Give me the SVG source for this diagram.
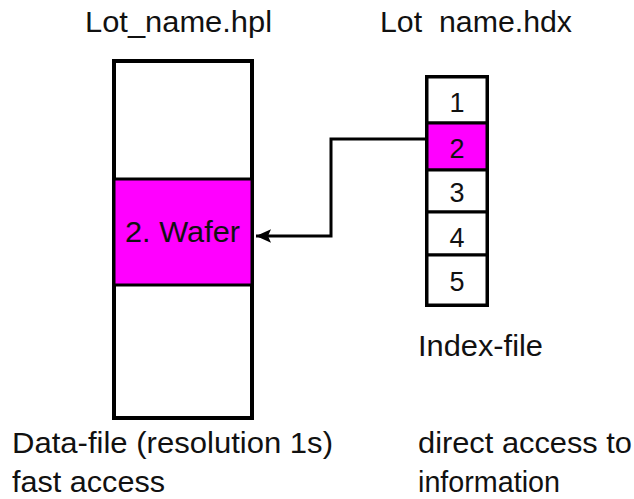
<svg xmlns="http://www.w3.org/2000/svg" width="634" height="499" viewBox="0 0 634 499">
<style>
text{font-family:"Liberation Sans",Arial,sans-serif;font-size:29px;fill:#111;}
.box{fill:#fff;stroke:#000;stroke-width:4;}
.mag{fill:#ff00ff;stroke:#000;stroke-width:3;}
.cell{fill:#fff;stroke:#000;stroke-width:3;}
.num{text-anchor:middle;font-size:27px;}
.conn{fill:none;stroke:#000;stroke-width:3;}
</style>
<defs>
<marker id="arr" viewBox="0 0 10 10" refX="10" refY="5" markerWidth="5" markerHeight="4.5" orient="auto" markerUnits="strokeWidth" preserveAspectRatio="none">
<path d="M0,0 L10,5 L0,10 L2,5 Z" fill="#000"/>
</marker>
</defs>
<g id="datafile">
<rect class="box" x="114" y="61" width="138" height="357"/>
<rect class="mag" x="114" y="179" width="138" height="106"/>
<text x="125" y="242" textLength="115" lengthAdjust="spacingAndGlyphs">2. Wafer</text>
<text x="85" y="32" textLength="187" lengthAdjust="spacingAndGlyphs">Lot_name.hpl</text>
<text x="12" y="453" textLength="321" lengthAdjust="spacingAndGlyphs">Data-file (resolution 1s)</text>
<text x="12" y="492" textLength="153" lengthAdjust="spacingAndGlyphs">fast access</text>
</g>
<g id="indexfile">
<rect class="box" x="427" y="77" width="60" height="228"/>
<rect class="cell" x="427" y="77" width="60" height="46"/>
<rect class="mag" x="427" y="123" width="60" height="47"/>
<rect class="cell" x="427" y="170" width="60" height="42"/>
<rect class="cell" x="427" y="212" width="60" height="43"/>
<rect class="cell" x="427" y="255" width="60" height="50"/>
<text class="num" x="457" y="112">1</text>
<text class="num" x="457" y="158">2</text>
<text class="num" x="457" y="202">3</text>
<text class="num" x="457" y="247">4</text>
<text class="num" x="457" y="291">5</text>
<text x="380" y="32" textLength="192" lengthAdjust="spacingAndGlyphs" xml:space="preserve">Lot  name.hdx</text>
<text x="418" y="356" textLength="125" lengthAdjust="spacingAndGlyphs">Index-file</text>
<text x="418" y="453" textLength="214" lengthAdjust="spacingAndGlyphs">direct access to</text>
<text x="418" y="492" textLength="142" lengthAdjust="spacingAndGlyphs">information</text>
</g>
<g id="connectors">
<path class="conn" d="M425,139 H331 V236 H256" marker-end="url(#arr)"/>
</g>
</svg>
